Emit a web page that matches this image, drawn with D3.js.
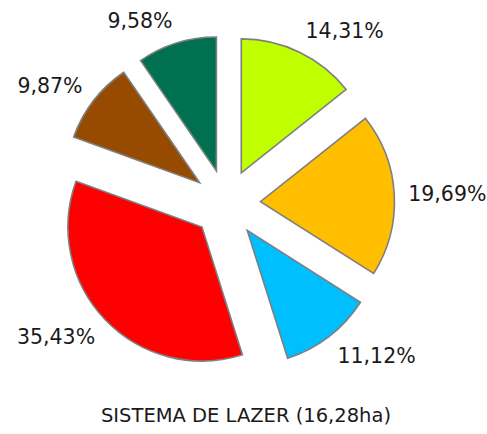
<!DOCTYPE html>
<html>
<head>
<meta charset="utf-8">
<script src="https://cdn.jsdelivr.net/npm/d3@7"></script>
<style>
  body { margin: 0; background: #fff; }
  text { font-family: 'DejaVu Sans', sans-serif; fill: #1a1a1a; }
</style>
</head>
<body>
<div id="chart"></div>
<script>
// slice values (%), clockwise from 12 o'clock
const values = [14.31, 19.69, 11.12, 35.43, 9.87, 9.58];
const colors = ['#bfff00', '#ffbf00', '#00bfff', '#ff0000', '#964b00', '#007050'];
const title = 'SISTEMA DE LAZER (16,28ha)';

const width = 487;
const height = 434;
const cx = 226.5, cy = 203.5;
const radius = 134;
const explode = 34;
const labelRadius = 182;

const fmt = v => v.toFixed(2).replace('.', ',') + '%';

const svg = d3.select('#chart').append('svg')
  .attr('width', width)
  .attr('height', height);

const pie = d3.pie().sort(null).value(d => d);
const arc = d3.arc().innerRadius(0).outerRadius(radius);
const arcs = pie(values);

const mid = d => (d.startAngle + d.endAngle) / 2;

const g = svg.append('g').attr('transform', `translate(${cx},${cy})`);

g.selectAll('.slice')
  .data(arcs)
  .enter().append('path')
    .attr('class', 'slice')
    .attr('d', arc)
    .attr('transform', d => `translate(${explode * Math.sin(mid(d))},${-explode * Math.cos(mid(d))})`)
    .style('fill', (d, i) => colors[i])
    .style('stroke', '#7f7f7f')
    .style('stroke-width', 1.6)
    .style('stroke-linejoin', 'miter');

g.selectAll('.label')
  .data(arcs)
  .enter().append('text')
    .attr('class', 'label')
    .attr('x', d => labelRadius * Math.sin(mid(d)))
    .attr('y', d => -labelRadius * Math.cos(mid(d)) - 10 * Math.cos(mid(d)))
    .attr('dy', '0.36em')
    .attr('text-anchor', d => Math.sin(mid(d)) > 0.05 ? 'start' : (Math.sin(mid(d)) < -0.05 ? 'end' : 'middle'))
    .style('font-size', '20.5px')
    .text(d => fmt(d.data));

svg.append('text')
  .attr('x', 246)
  .attr('y', 415)
  .attr('dy', '0.36em')
  .attr('text-anchor', 'middle')
  .style('font-size', '19.5px')
  .text(title);
</script>
</body>
</html>
